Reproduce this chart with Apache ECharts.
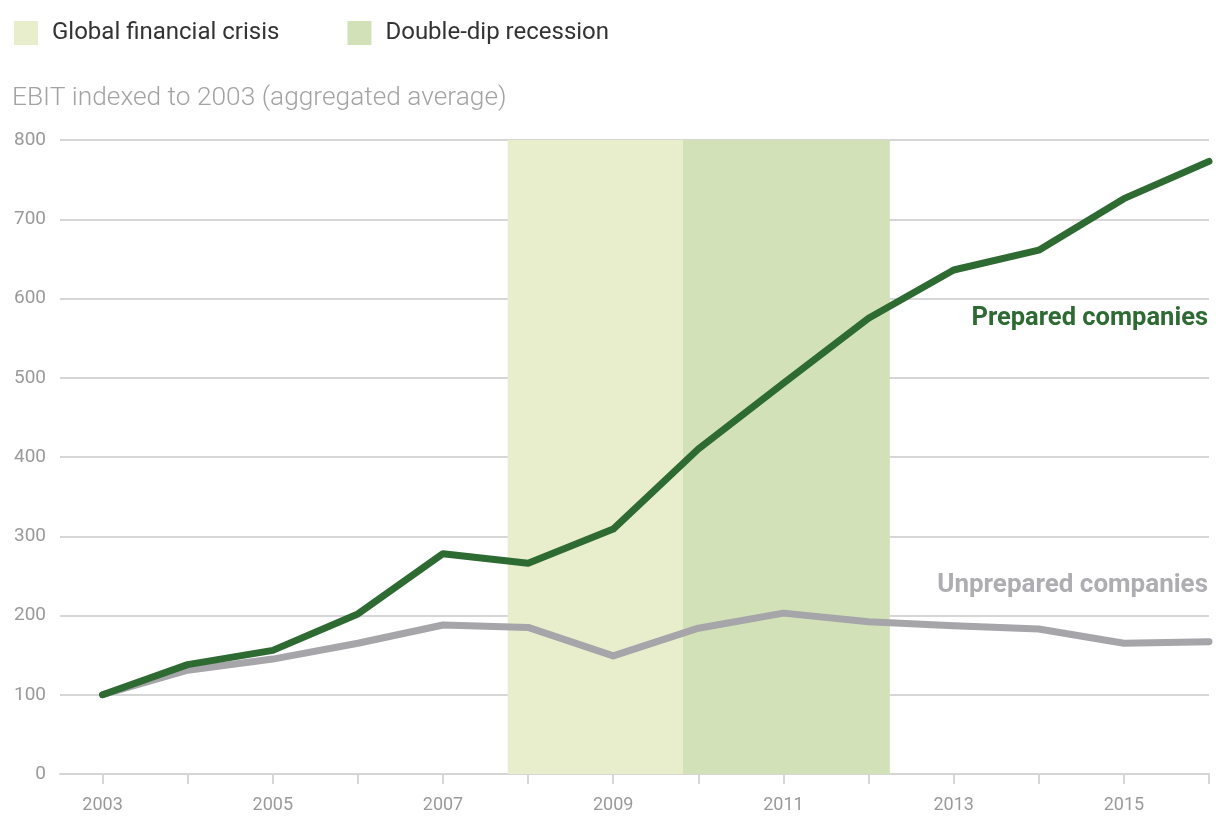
<!DOCTYPE html>
<html>
<head>
<meta charset="utf-8">
<script src="https://cdn.jsdelivr.net/npm/echarts@6/dist/echarts.min.js"></script>
<style>
  html, body { margin: 0; padding: 0; background: #fff; }
  #ebitLine { width: 1229px; height: 817px; }
</style>
</head>
<body>
<div id="ebitLine"></div>
<script>
var years = [2003, 2004, 2005, 2006, 2007, 2008, 2009, 2010, 2011, 2012, 2013, 2014, 2015, 2016];
var preparedList = [100, 138, 156, 202, 278, 266, 309, 410, 493, 575, 636, 661, 726, 773];
var unpreparedList = [100, 131, 145, 165, 188, 185, 149, 184, 203, 192, 187, 183, 165, 167];
var labelYears = [2003, 2005, 2007, 2009, 2011, 2013, 2015];
var crisisRange = [2007.76, 2009.82];
var recessionRange = [2009.82, 2012.25];

function pairs(vals) {
	return years.map(function (y, i) { return [y, vals[i]]; });
}

var ebitChart = echarts.init(document.getElementById('ebitLine'));
var option = {
	backgroundColor: '#fff',
	animation: false,
	textStyle: { fontFamily: 'Roboto' },
	legend: {
		left: 14,
		top: 21,
		padding: 0,
		itemWidth: 24,
		itemHeight: 24,
		itemGap: 68,
		icon: 'rect',
		textStyle: { color: '#333', fontSize: 24, fontFamily: 'Roboto', padding: [0, 0, 0, 9] },
		data: ['Global financial crisis', 'Double-dip recession']
	},
	grid: {
		left: 60,
		right: 20,
		top: 140,
		bottom: 43
	},
	xAxis: {
		type: 'value',
		min: 2002.5,
		max: 2016,
		splitLine: { show: false },
		axisLine: { show: true, lineStyle: { color: '#d6d6d6', width: 2 } },
		axisTick: {
			show: true,
			length: 10,
			customValues: years,
			lineStyle: { color: '#d6d6d6', width: 2 }
		},
		axisLabel: {
			customValues: labelYears,
			margin: 22,
			color: '#9a9a9a',
			fontSize: 18,
			formatter: function (v) { return String(v); }
		}
	},
	yAxis: {
		type: 'value',
		min: 0,
		max: 800,
		interval: 100,
		axisLine: { show: false },
		axisTick: { show: false },
		splitLine: { lineStyle: { color: '#d6d6d6', width: 2 } },
		axisLabel: { color: '#9a9a9a', fontSize: 19, margin: 14 }
	},
	graphic: [
		{
			type: 'text', left: 12, top: 85,
			style: { text: 'EBIT indexed to 2003 (aggregated average)', fill: '#a3a3a3', fontSize: 26.3, fontFamily: 'Roboto', fontWeight: 300 }
		},
		{
			type: 'text', right: 21, top: 306,
			style: { text: 'Prepared companies', fill: '#2e6b33', fontSize: 25.5, fontWeight: 'bold', fontFamily: 'Roboto' }
		},
		{
			type: 'text', right: 21, top: 572,
			style: { text: 'Unprepared companies', fill: '#aeaeb2', fontSize: 26, fontWeight: 'bold', fontFamily: 'Roboto' }
		}
	],
	series: [
		{
			name: 'Global financial crisis',
			type: 'line',
			data: [],
			itemStyle: { color: '#e8edcc' },
			markArea: {
				silent: true,
				itemStyle: { color: '#e8edcc' },
				data: [[{ xAxis: crisisRange[0], yAxis: 0 }, { xAxis: crisisRange[1], yAxis: 800 }]]
			}
		},
		{
			name: 'Double-dip recession',
			type: 'line',
			data: [],
			itemStyle: { color: '#d2e1b7' },
			markArea: {
				silent: true,
				itemStyle: { color: '#d2e1b7' },
				data: [[{ xAxis: recessionRange[0], yAxis: 0 }, { xAxis: recessionRange[1], yAxis: 800 }]]
			}
		},
		{
			name: 'Unprepared companies',
			type: 'line',
			data: pairs(unpreparedList),
			symbol: 'none',
			z: 3,
			lineStyle: { color: '#a5a5aa', width: 7, cap: 'round', join: 'round' }
		},
		{
			name: 'Prepared companies',
			type: 'line',
			data: pairs(preparedList),
			symbol: 'none',
			z: 4,
			lineStyle: { color: '#2e6b33', width: 7, cap: 'round', join: 'round' }
		}
	]
};
ebitChart.setOption(option);
window.addEventListener('resize', function () {
	ebitChart.resize();
});
</script>
</body>
</html>
